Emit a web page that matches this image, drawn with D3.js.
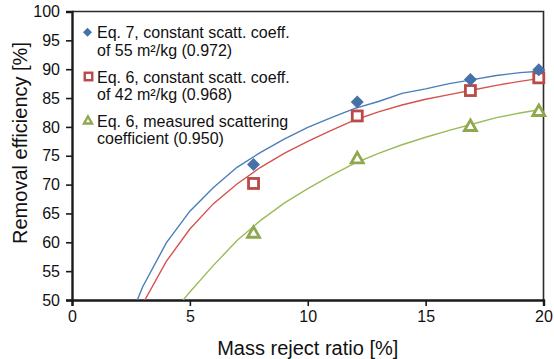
<!DOCTYPE html>
<html>
<head>
<meta charset="utf-8">
<script src="https://cdn.jsdelivr.net/npm/d3@7"></script>
<style>
  html, body { margin: 0; padding: 0; background: #fff; }
  svg { display: block; font-family: "Liberation Sans", Arial, sans-serif; }
</style>
</head>
<body>
<svg id="chart" width="554" height="359"></svg>
<script>
// Measured points: mass reject ratio [%] vs removal efficiency [%]
const measuredX = [7.7, 12.1, 16.9, 19.8];
const eq7Const55 = [73.5, 84.3, 88.2, 89.9];
const eq6Const42 = [70.2, 81.9, 86.3, 88.5];
const eq6Measured = [61.6, 74.5, 80.1, 82.7];

// Model curves (x, y)
const curveEq7Const55 = [
  [2.77, 50], [3, 52.3], [4, 59.9], [5, 65.4], [6, 69.5], [7, 73.0], [8, 75.6],
  [9, 77.9], [10, 79.9], [11, 81.6], [12, 83.2], [13, 84.4], [14, 85.8],
  [15, 86.6], [16, 87.5], [17, 88.2], [18, 88.9], [19, 89.4], [20, 89.7]
];
const curveEq6Const42 = [
  [3.09, 50], [4, 56.7], [5, 62.3], [6, 66.7], [7, 70.1], [8, 73.0], [9, 75.4],
  [10, 77.5], [11, 79.4], [12, 81.2], [13, 82.6], [14, 83.8], [15, 84.8],
  [16, 85.6], [17, 86.4], [18, 87.2], [19, 87.9], [20, 88.5]
];
const curveEq6Measured = [
  [4.72, 50], [5, 51.4], [6, 56.0], [7, 60.3], [8, 63.8], [9, 66.8], [10, 69.3],
  [11, 71.6], [12, 73.7], [13, 75.4], [14, 76.9], [15, 78.2], [16, 79.4],
  [17, 80.5], [18, 81.6], [19, 82.4], [20, 83.1]
];

const xTicks = [0, 5, 10, 15, 20];
const yTicks = [50, 55, 60, 65, 70, 75, 80, 85, 90, 95, 100];

const legendLabels = [
  ["Eq. 7, constant scatt. coeff.", "of 55 m²/kg (0.972)"],
  ["Eq. 6, constant scatt. coeff.", "of 42 m²/kg (0.968)"],
  ["Eq. 6, measured scattering", "coefficient (0.950)"]
];

const svg = d3.select("#chart");
const plotLeft = 72, plotRight = 543.5, plotTop = 11.5, plotBottom = 300;

const x = d3.scaleLinear().domain([0, 20]).range([plotLeft, plotRight]);
const y = d3.scaleLinear().domain([50, 100]).range([plotBottom, plotTop]);

// Plot frame (top and right)
svg.append("path")
  .attr("d", `M${plotLeft},${plotTop}H${plotRight}V${plotBottom}`)
  .attr("fill", "none").attr("stroke", "#2b2b2b").attr("stroke-width", 1.6);

// Axes
const xAxis = svg.append("g").attr("transform", `translate(0,${plotBottom})`)
  .call(d3.axisBottom(x).tickValues(xTicks).tickSize(6).tickPadding(5));
const yAxis = svg.append("g").attr("transform", `translate(${plotLeft},0)`)
  .call(d3.axisLeft(y).tickValues(yTicks).tickSize(6).tickPadding(6));

[xAxis, yAxis].forEach(g => {
  g.select(".domain").attr("stroke", "#1a1a1a").attr("stroke-width", 2.4);
  g.selectAll(".tick line").attr("stroke", "#1a1a1a").attr("stroke-width", 1.6);
  g.selectAll(".tick text").attr("fill", "#111").attr("font-size", 16)
    .attr("font-family", "Liberation Sans, Arial, sans-serif");
});

// Axis titles
svg.append("text").attr("x", (plotLeft + plotRight) / 2).attr("y", 355)
  .attr("text-anchor", "middle").attr("font-size", 20).attr("fill", "#111")
  .text("Mass reject ratio [%]");
svg.append("text")
  .attr("transform", "translate(27,143) rotate(-90)")
  .attr("text-anchor", "middle").attr("font-size", 20).attr("fill", "#111")
  .text("Removal efficiency [%]");

// Curves
svg.append("clipPath").attr("id", "plotClip")
  .append("rect").attr("x", plotLeft).attr("y", plotTop)
  .attr("width", plotRight - plotLeft).attr("height", plotBottom - plotTop);

const line = d3.line().x(d => x(d[0])).y(d => y(d[1]));
const curves = [
  { data: curveEq7Const55, color: "#4a7ebb" },
  { data: curveEq6Const42, color: "#d5534f" },
  { data: curveEq6Measured, color: "#9bbb59" }
];
const cg = svg.append("g").attr("clip-path", "url(#plotClip)");
curves.forEach(c => {
  cg.append("path").attr("d", line(c.data)).attr("fill", "none")
    .attr("stroke", c.color).attr("stroke-width", 1.4);
});

// Marker shapes
function diamond(g, cx, cy, r, fill) {
  g.append("path").attr("d", `M${cx},${cy - r}L${cx + r},${cy}L${cx},${cy + r}L${cx - r},${cy}Z`)
    .attr("fill", fill);
}
function square(g, cx, cy, s, color, sw) {
  g.append("rect").attr("x", cx - s / 2).attr("y", cy - s / 2).attr("width", s).attr("height", s)
    .attr("fill", "#fff").attr("stroke", color).attr("stroke-width", sw);
}
function triangle(g, cx, cy, w, color, sw) {
  const h = w * 0.87;
  g.append("path")
    .attr("d", `M${cx},${cy - h * 0.6}L${cx + w / 2},${cy + h * 0.4}L${cx - w / 2},${cy + h * 0.4}Z`)
    .attr("fill", "#fff").attr("stroke", color).attr("stroke-width", sw).attr("stroke-linejoin", "miter");
}

const mg = svg.append("g");
measuredX.forEach((xv, i) => {
  triangle(mg, x(xv), y(eq6Measured[i]), 12, "#8fa84f", 2.8);
  square(mg, x(xv), y(eq6Const42[i]), 10, "#b94a47", 2.8);
  diamond(mg, x(xv), y(eq7Const55[i]), 6.5, "#4670a8");
});

// Legend
const lg = svg.append("g");
const legendTop = 38.3, itemGap = 44.2, lineGap = 17.2, textX = 97;
legendLabels.forEach((lines, i) => {
  const by = legendTop + i * itemGap;
  lines.forEach((t, j) => {
    lg.append("text").attr("x", textX).attr("y", by + j * lineGap)
      .attr("font-size", 16).attr("fill", "#111").text(t);
  });
  const my = by - 6;
  if (i === 0) diamond(lg, 87.5, my, 4.5, "#4670a8");
  if (i === 1) square(lg, 88.5, my, 7.5, "#b94a47", 2.4);
  if (i === 2) triangle(lg, 88, my, 8, "#8fa84f", 2.4);
});
</script>
</body>
</html>
